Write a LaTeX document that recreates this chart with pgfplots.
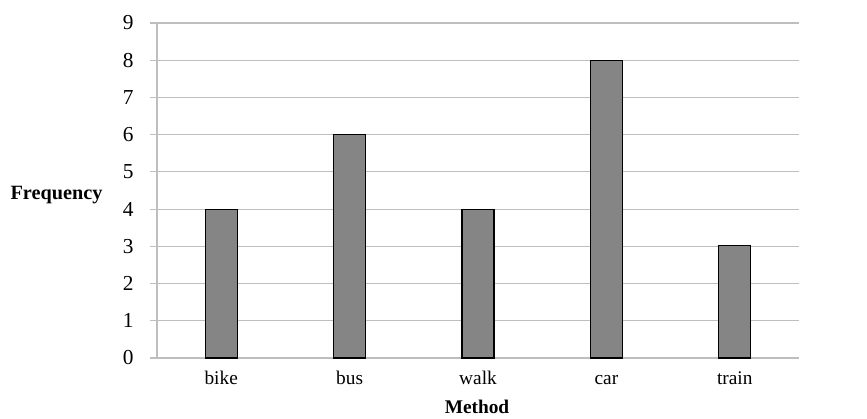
\documentclass[border=0pt]{standalone}
\usepackage{pgfplots}
\pgfplotsset{compat=1.18}
\usepackage{fontspec}
\setmainfont{Liberation Serif}

\definecolor{gridgray}{HTML}{BEBEBE}
\definecolor{barfill}{HTML}{858585}

\begin{document}
\begin{tikzpicture}[x=1pt,y=1pt]
\begin{axis}[
    at={(0,0)}, anchor=south west,
    scale only axis,
    width=481.5pt, height=251.25pt,
    xmin=-0.5, xmax=4.5,
    ymin=0, ymax=9,
    ytick={0,1,...,9},
    xtick={0,1,2,3,4},
    xticklabels={bike,bus,walk,car,train},
    axis lines*=left,
    axis line style={gridgray, line width=0.8pt, -},
    ymajorgrids,
    grid style={gridgray, line width=0.8pt},
    major y tick style={gridgray, line width=0.8pt},
    major x tick style={draw=none},
    tick align=outside,
    major tick length=5pt,
    /pgf/number format/assume math mode=true,
    yticklabel style={font=\fontsize{16}{18}\selectfont, xshift=-9pt},
    xticklabel style={font=\fontsize{14.5}{16}\selectfont, text height=10pt, text depth=0pt, yshift=-1pt},
    clip=false,
]
\addplot[ybar, bar width=24pt, fill=barfill, draw=black, line width=0.8pt]
    coordinates {(0,4) (1,6) (2,4) (3,8) (4,3.03)};
\end{axis}
\node[anchor=west, inner sep=0pt, font=\bfseries\fontsize{15.2}{17}\selectfont] at (-110,122.25) {Frequency};
\node[font=\bfseries\fontsize{14.5}{16}\selectfont] at (240,-36.75) {Method};
\useasboundingbox (-117.75,-45) rectangle (532.5,268.5);
\end{tikzpicture}
\end{document}
